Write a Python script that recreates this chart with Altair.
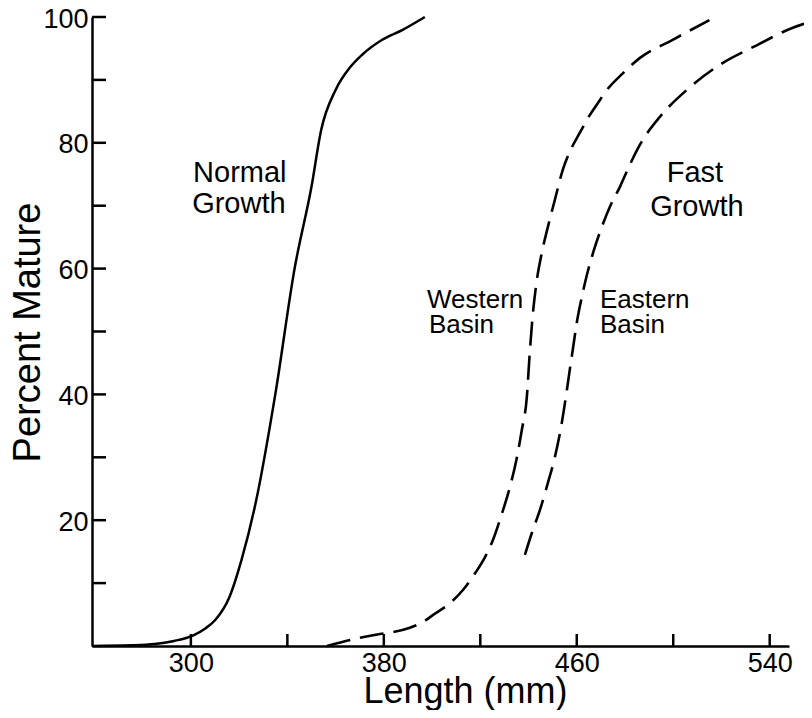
import altair as alt
import pandas as pd

# ---- data ----
normal_x = [259, 275, 285, 293, 301, 306, 310, 316, 321, 327, 335, 343, 350, 354, 360, 366, 371, 379, 388, 397]
normal_y = [0, 0.1, 0.3, 0.8, 1.7, 2.8, 4.1, 7.8, 13.7, 23, 40, 60, 73, 82, 88.4, 92, 94, 96.3, 98, 100]

western_x = [356.4, 370.1, 378.4, 383.8, 390.8, 396.2, 400.3, 407.4, 412.8, 417.9, 421.9, 425.2, 429.0,
             432.3, 435.2, 437.2, 439.3, 440.4, 441.6, 443.2, 445.5, 448.0, 450.9, 454.2, 458.0, 461.3,
             465.4, 468.7, 472.5, 479.0, 486.2, 499.4, 515.0]
western_y = [0, 1.3, 1.9, 2.2, 2.9, 3.8, 4.9, 6.8, 8.9, 11.6, 14.1, 16.8, 21.1,
             25.3, 30.0, 34.3, 39.6, 46.0, 52.0, 57.5, 62.5, 66.6, 70.9, 75.7, 79.3, 81.6,
             84.4, 86.3, 88.4, 91.0, 93.5, 96.3, 99.5]

eastern_x = [438.5, 441.4, 444.7, 448.0, 450.9, 453.8, 455.9, 457.1, 458.5, 460.0, 462.1, 464.4, 467.0,
             469.8, 473.7, 477.9, 482.0, 486.2, 494.4, 505.6, 519.3, 534.6, 549.6, 556.6]
eastern_y = [14.5, 18.0, 21.6, 25.9, 30.0, 35.5, 40.7, 43.9, 47.5, 51.4, 55.5, 59.3, 62.8,
             66.0, 69.8, 73.0, 76.5, 79.7, 84.1, 88.4, 92.4, 95.5, 98.3, 99.2]

x_tick_values = [300, 340, 380, 420, 460, 500, 540]
x_label_values = [300, 380, 460, 540]
y_tick_values = [10, 20, 30, 40, 50, 60, 70, 80, 90, 100]
y_label_values = [20, 40, 60, 80, 100]

label_text = ["Normal", "Growth", "Fast", "Growth", "Western", "Basin", "Eastern", "Basin"]
label_x = [320.3, 319.9, 509, 509.8, 397.9, 398.7, 469.6, 469.6]
label_y = [73.8, 68.8, 73.8, 68.4, 53.7, 49.8, 53.7, 49.8]

# ---- tables ----
normal_df = pd.DataFrame({"x": normal_x, "y": normal_y})
fast_df = pd.concat([
    pd.DataFrame({"x": western_x, "y": western_y, "series": "Western Basin"}),
    pd.DataFrame({"x": eastern_x, "y": eastern_y, "series": "Eastern Basin"}),
])
xt_df = pd.DataFrame({"x": x_tick_values})
yt_df = pd.DataFrame({"y": y_tick_values})
lab_df = pd.DataFrame({"text": label_text, "x": label_x, "y": label_y})
big_df = lab_df.iloc[:4]
small_df = lab_df.iloc[4:]

W, H = 697, 629
FONT = "Liberation Sans"

xscale = alt.Scale(domain=[259, 548], nice=False, zero=False)
yscale = alt.Scale(domain=[0, 100], nice=False)

xaxis = alt.Axis(values=x_label_values, title="Length (mm)", titleX=373, titleY=56,
                 titleAlign="center", titleBaseline="alphabetic", labelPadding=4,
                 titleFontSize=36)
yaxis = alt.Axis(values=y_label_values, title="Percent Mature", titleX=-53, titleY=315,
                 titleAngle=270, titleAlign="center", titleBaseline="alphabetic", labelPadding=4,
                 labelOffset=2, titleFontSize=38)

X = alt.X("x:Q", scale=xscale, axis=xaxis)
Y = alt.Y("y:Q", scale=yscale, axis=yaxis)

normal = alt.Chart(normal_df).mark_line(color="black", strokeWidth=2.5, interpolate="monotone").encode(x=X, y=Y)

fast = alt.Chart(fast_df).mark_line(color="black", strokeWidth=2.6, strokeDash=[24, 10],
                                    interpolate="monotone").encode(x=X, y=Y, detail="series:N")

xticks = alt.Chart(xt_df).mark_rule(color="black", strokeWidth=2.5).encode(
    x=X, y=alt.value(H), y2=alt.value(H - 12))
yticks = alt.Chart(yt_df).mark_rule(color="black", strokeWidth=2.5).encode(
    y=Y, x=alt.value(0), x2=alt.value(14))

big_text = alt.Chart(big_df).mark_text(font=FONT, fontSize=29, color="black", align="center",
                                       baseline="alphabetic").encode(x=X, y=Y, text="text:N")
small_text = alt.Chart(small_df).mark_text(font=FONT, fontSize=26, color="black", align="left",
                                           baseline="alphabetic").encode(x=X, y=Y, text="text:N")

chart = alt.layer(normal, fast, xticks, yticks, big_text, small_text).properties(
    width=W, height=H,
    autosize=alt.AutoSizeParams(type="none"),
    padding={"left": 84, "top": 9, "right": 15, "bottom": 64},
).configure_view(stroke=None).configure_axis(
    grid=False, ticks=False, tickSize=0,
    domainColor="black", domainWidth=2.5,
    labelFont=FONT, labelFontSize=27, labelColor="black",
    titleFont=FONT, titleColor="black", titleFontWeight="normal",
)

chart.save("out.html", embed_options={"renderer": "svg", "actions": False})
